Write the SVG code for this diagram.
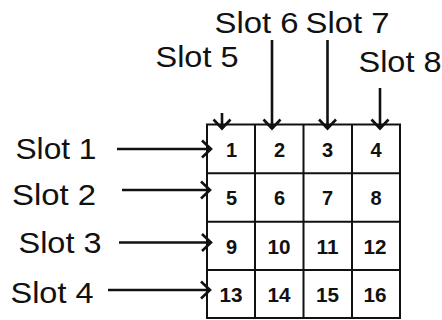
<svg xmlns="http://www.w3.org/2000/svg" width="442" height="320" viewBox="0 0 442 320">
<defs>
<marker id="ah" markerUnits="userSpaceOnUse" markerWidth="24" markerHeight="24" viewBox="-12 -12 24 24" refX="0" refY="0" orient="auto">
<path d="M-9,-8.5 L0,0 L-9,8.5" fill="none" stroke="#111" stroke-width="2.6" stroke-linejoin="miter"/>
</marker>
</defs>
<style>
.lbl{font-family:"Liberation Sans",Arial,sans-serif;font-size:29px;fill:#111}
.num{font-family:"Liberation Sans",Arial,sans-serif;font-size:20px;font-weight:bold;fill:#111;text-anchor:middle}
.grid{fill:none;stroke:#111;stroke-width:2}
.conn{stroke:#111;stroke-width:2.6;fill:none;marker-end:url(#ah)}
</style>
<rect width="442" height="320" fill="#fff"/>
<g id="grid">
<rect class="grid" x="207" y="124.5" width="193" height="193.5"/>
<path class="grid" d="M255,124.5V318M303.5,124.5V318M352,124.5V318M207,173.3H400M207,221.7H400M207,270H400"/>
</g>
<g id="cells">
<text class="num" x="231.5" y="157">1</text>
<text class="num" x="279.5" y="157">2</text>
<text class="num" x="327.5" y="157">3</text>
<text class="num" x="376" y="157">4</text>
<text class="num" x="231.5" y="205">5</text>
<text class="num" x="279.5" y="205">6</text>
<text class="num" x="327.5" y="205">7</text>
<text class="num" x="376" y="205">8</text>
<text class="num" x="231.5" y="253.5">9</text>
<text class="num" x="279" y="253.5" textLength="23" lengthAdjust="spacingAndGlyphs">10</text>
<text class="num" x="327.5" y="253.5" textLength="22" lengthAdjust="spacingAndGlyphs">11</text>
<text class="num" x="375" y="253.5" textLength="23" lengthAdjust="spacingAndGlyphs">12</text>
<text class="num" x="231" y="301.5" textLength="23" lengthAdjust="spacingAndGlyphs">13</text>
<text class="num" x="279" y="301.5" textLength="23" lengthAdjust="spacingAndGlyphs">14</text>
<text class="num" x="327.5" y="301.5" textLength="23" lengthAdjust="spacingAndGlyphs">15</text>
<text class="num" x="375" y="301.5" textLength="23" lengthAdjust="spacingAndGlyphs">16</text>
</g>
<g id="slot1"><text class="lbl" x="15.5" y="159" textLength="81" lengthAdjust="spacingAndGlyphs">Slot 1</text></g>
<g id="slot2"><text class="lbl" x="12" y="205" textLength="84" lengthAdjust="spacingAndGlyphs">Slot 2</text></g>
<g id="slot3"><text class="lbl" x="18.5" y="253" textLength="83" lengthAdjust="spacingAndGlyphs">Slot 3</text></g>
<g id="slot4"><text class="lbl" x="10.5" y="303" textLength="83" lengthAdjust="spacingAndGlyphs">Slot 4</text></g>
<g id="slot5"><text class="lbl" x="155.5" y="67" textLength="83" lengthAdjust="spacingAndGlyphs">Slot 5</text></g>
<g id="slot6"><text class="lbl" x="214.5" y="33" textLength="84" lengthAdjust="spacingAndGlyphs">Slot 6</text></g>
<g id="slot7"><text class="lbl" x="305.5" y="33" textLength="84" lengthAdjust="spacingAndGlyphs">Slot 7</text></g>
<g id="slot8"><text class="lbl" x="358.5" y="72" textLength="83" lengthAdjust="spacingAndGlyphs">Slot 8</text></g>
<g id="connectors">
<path class="conn" d="M117,149H211"/>
<path class="conn" d="M122,190H210"/>
<path class="conn" d="M119,242.5H211"/>
<path class="conn" d="M108,290H210"/>
<path class="conn" d="M222,113V128.5"/>
<path class="conn" d="M272,40V128.5"/>
<path class="conn" d="M327.5,40V128.5"/>
<path class="conn" d="M380,88V128.5"/>
</g>
</svg>
